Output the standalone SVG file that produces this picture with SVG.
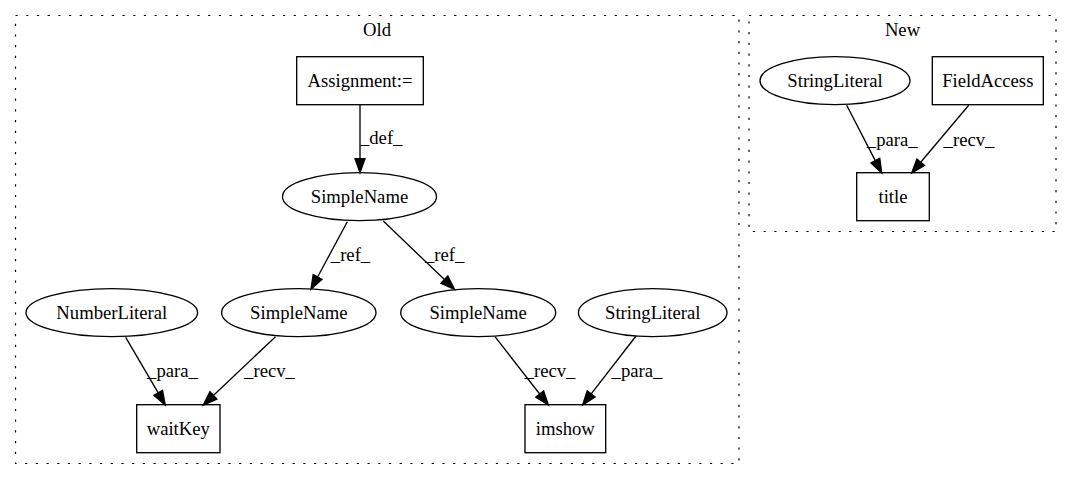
<svg xmlns="http://www.w3.org/2000/svg" width="1071" height="480" viewBox="0 0 1071 480" font-family="'Liberation Serif', 'Times New Roman', 'DejaVu Serif', serif">
<style>
text{font-family:'Liberation Serif','Times New Roman','DejaVu Serif',serif;font-size:18.67px;fill:#000;text-anchor:middle}
.n{fill:none;stroke:#000;stroke-width:1.33}
.c{fill:none;stroke:#000;stroke-width:1.2;stroke-dasharray:2.2,8.5}
.e{fill:none;stroke:#000;stroke-width:1.33}
</style>
<defs>
<marker id="ah" markerUnits="userSpaceOnUse" markerWidth="16" markerHeight="12" refX="0" refY="5" orient="auto" overflow="visible">
<path d="M0,0 L14,5 L0,10 Z" fill="#000" stroke="#000" stroke-width="1.33"/>
</marker>
</defs>
<rect width="1071" height="480" fill="#fff"/>
<g id="cluster_old">
<rect class="c" x="15.5" y="15.5" width="723.5" height="448"/>
<text x="377" y="36">Old</text>
</g>
<g id="cluster_new">
<rect class="c" x="749" y="15.5" width="307" height="216"/>
<text x="902.5" y="36">New</text>
</g>
<g id="edges">
<path class="e" d="M360,104.7 L360,158.7" marker-end="url(#ah)"/>
<text x="381.2" y="144.3">_def_</text>
<path class="e" d="M347.3,221.7 L317.6,277" marker-end="url(#ah)"/>
<text x="350.5" y="260.7">_ref_</text>
<path class="e" d="M383.3,221 L444.4,279.6" marker-end="url(#ah)"/>
<text x="444.7" y="260.7">_ref_</text>
<path class="e" d="M125.7,337.3 L158.2,392.9" marker-end="url(#ah)"/>
<text x="172.5" y="376.7">_para_</text>
<path class="e" d="M275.5,336.7 L213.4,395.4" marker-end="url(#ah)"/>
<text x="269.5" y="376.7">_recv_</text>
<path class="e" d="M495,336.7 L539.7,394" marker-end="url(#ah)"/>
<text x="550" y="377">_recv_</text>
<path class="e" d="M636,336 L591.2,393.9" marker-end="url(#ah)"/>
<text x="637" y="377">_para_</text>
<path class="e" d="M846.7,105.3 L875.3,160.6" marker-end="url(#ah)"/>
<text x="892.2" y="146">_para_</text>
<path class="e" d="M968.7,105.3 L920.7,162.3" marker-end="url(#ah)"/>
<text x="969" y="146">_recv_</text>
</g>
<g id="assignment">
<rect class="n" x="296.7" y="56.7" width="126.6" height="48"/>
<text x="360" y="86.7">Assignment:=</text>
</g>
<g id="simplename_top">
<ellipse class="n" cx="359.5" cy="196.7" rx="77" ry="24"/>
<text x="359.5" y="202.7">SimpleName</text>
</g>
<g id="numberliteral">
<ellipse class="n" cx="111.8" cy="312.7" rx="85.8" ry="24"/>
<text x="111.8" y="318.7">NumberLiteral</text>
</g>
<g id="simplename_mid">
<ellipse class="n" cx="298.8" cy="312.7" rx="77.2" ry="24"/>
<text x="298.8" y="318.7">SimpleName</text>
</g>
<g id="simplename_right">
<ellipse class="n" cx="478.2" cy="312.7" rx="77.5" ry="24"/>
<text x="478.2" y="318.7">SimpleName</text>
</g>
<g id="stringliteral_old">
<ellipse class="n" cx="652.7" cy="312.7" rx="74.3" ry="24"/>
<text x="652.7" y="318.7">StringLiteral</text>
</g>
<g id="waitkey">
<rect class="n" x="136.7" y="404.7" width="83.3" height="48"/>
<text x="178.3" y="434.7">waitKey</text>
</g>
<g id="imshow">
<rect class="n" x="525" y="404.7" width="80.7" height="48"/>
<text x="565.3" y="434.7">imshow</text>
</g>
<g id="stringliteral_new">
<ellipse class="n" cx="835" cy="80.7" rx="75" ry="24"/>
<text x="835" y="86.7">StringLiteral</text>
</g>
<g id="fieldaccess">
<rect class="n" x="932.3" y="56.7" width="111" height="48"/>
<text x="987.8" y="86.7">FieldAccess</text>
</g>
<g id="title">
<rect class="n" x="856.7" y="172.7" width="72.6" height="48"/>
<text x="893" y="202.7">title</text>
</g>
</svg>
